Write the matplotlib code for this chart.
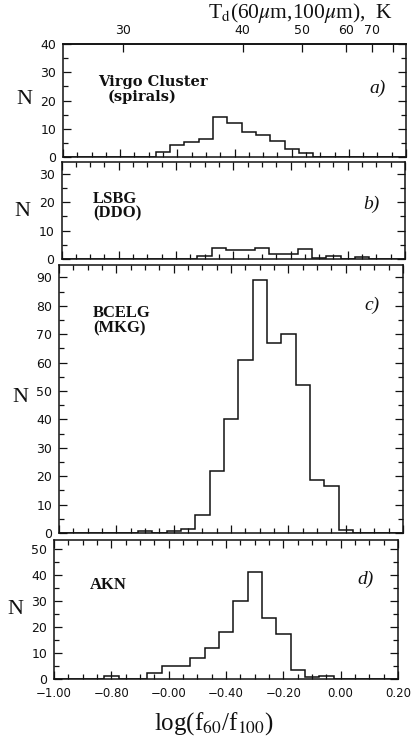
import numpy as np
import matplotlib
matplotlib.use("Agg")
import matplotlib.pyplot as plt
from matplotlib.ticker import MultipleLocator

plt.rcParams['mathtext.fontset'] = 'stix'
plt.rcParams['font.family'] = ['DejaVu Sans']

# ---- data ----
bin_centers = np.round(np.arange(-1.0, 0.2001, 0.05), 3)   # log(f60/f100) bin centres
virgo = [0]*7 + [1.7, 4.3, 5.3, 6.4, 14, 12, 9, 7.8, 5.8, 2.9, 1.4] + [0]*7
lsbg = [0]*10 + [1, 4, 3, 3, 4, 1.8, 1.8, 3.6, 0.5, 1.2, 0, 0.8] + [0]*3
bcelg = [0]*6 + [0.8, 0, 0.6, 1.5, 6.5, 22, 40, 61, 89, 67, 70, 52, 18.5, 16.5, 1] + [0]*4
akn = [0]*4 + [1, 0, 0, 2.5, 5, 5, 8, 12, 18, 30, 41, 23.5, 17.5, 3.5, 0.8, 1.3] + [0]*5

x_tick_vals = [-1.0, -0.8, -0.6, -0.4, -0.2, 0.0, 0.2]
x_tick_labels = ["\u22121.00", "\u22120.80", "\u22120.00", "\u22120.40", "\u22120.20", "0.00", "0.20"]

# top axis: dust temperature calibration
T_values = [30, 40, 50, 60, 70, 80]
T_logratio = [-0.79, -0.371, -0.164, -0.0105, 0.080, 0.154]
T_labels = ["30", "40", "50", "60", "70", ""]

panel_names = [("Virgo Cluster", "(spirals)"), ("LSBG", "(DDO)"), ("BCELG", "(MKG)"), ("AKN", None)]
panel_tags = ["a)", "b)", "c)", "d)"]
series = [virgo, lsbg, bcelg, akn]
ymax = [40, 34.2, 94.4, 53.5]
ymajor = [10, 10, 10, 10]

# ---- layout ----
W, H = 411, 739
fig = plt.figure(figsize=(W/100, H/100), dpi=100)

# (left, right, top, bottom) in pixels
boxes = [(63, 406, 44, 157), (61.5, 405, 162, 259), (59, 403, 265, 533), (54, 398, 540, 679)]
name_pos = [((0.102, 0.665), (0.131, 0.53)),
            ((0.092, 0.62), (0.092, 0.47)),
            ((0.099, 0.82), (0.099, 0.765)),
            ((0.104, 0.676), None)]
tag_pos = [(0.918, 0.61), (0.903, 0.56), (0.91, 0.85), (0.905, 0.72)]
n_pos = [(24, 100), (22, 212), (20, 397), (15, 610)]

edges = np.concatenate([bin_centers - 0.025, [bin_centers[-1] + 0.025]])

serif = ['Liberation Serif', 'DejaVu Serif']
axes = []
for i, (l, r, t, b) in enumerate(boxes):
    ax = fig.add_axes([l/W, (H-b)/H, (r-l)/W, (b-t)/H])
    axes.append(ax)
    ax.stairs(series[i], edges, color='#111111', lw=1.1, baseline=0)
    ax.set_xlim(-1.0, 0.2)
    ax.set_ylim(0, ymax[i])
    ax.xaxis.set_major_locator(MultipleLocator(0.2))
    ax.xaxis.set_minor_locator(MultipleLocator(0.05))
    ax.yaxis.set_major_locator(MultipleLocator(ymajor[i]))
    ax.yaxis.set_minor_locator(MultipleLocator(5))
    ax.tick_params(axis='both', which='both', direction='in', right=True, top=(i > 0),
                   colors='#111111', labelsize=9)
    ax.tick_params(axis='both', which='major', length=6, width=0.9, pad=5)
    ax.tick_params(axis='both', which='minor', length=3.5, width=0.9)
    for s in ax.spines.values():
        s.set_linewidth(1.1)
        s.set_color('#111111')
    if i < 3:
        ax.set_xticklabels([])
    else:
        ax.set_xticks(x_tick_vals)
        ax.set_xticklabels(x_tick_labels)
        ax.tick_params(axis='x', which='major', pad=6, labelsize=8.5)

    nm1, nm2 = panel_names[i]
    if i == 0:
        fam = ['DejaVu Serif']
        fs = 10.5
    else:
        fam = serif
        fs = 12
    p1, p2 = name_pos[i]
    ax.text(p1[0], p1[1], nm1, transform=ax.transAxes, family=fam, fontsize=fs,
            fontweight='bold', ha='left', va='center', color='#111111')
    if nm2:
        ax.text(p2[0], p2[1], nm2, transform=ax.transAxes, family=fam, fontsize=fs,
                fontweight='bold', ha='left', va='center', color='#111111')
    ax.text(tag_pos[i][0], tag_pos[i][1], panel_tags[i], transform=ax.transAxes,
            family=serif, fontsize=14, style='italic', ha='center', va='center', color='#111111')
    fig.text(n_pos[i][0]/W, 1 - n_pos[i][1]/H, "N", family=serif, fontsize=16, ha='center',
             va='center', color='#111111')

# top temperature axis
sec = axes[0].secondary_xaxis('top')
sec.set_xticks(T_logratio, labels=T_labels)
sec.tick_params(direction='in', length=6, width=0.9, pad=5, labelsize=9, colors='#111111')
sec.xaxis.set_minor_locator(plt.NullLocator())
sec.spines['top'].set_linewidth(1.1)

fig.text(300/W, 1 - 13/H, r"T$_{\rm d}$(60$\mu$m,100$\mu$m),  K", family=serif,
         fontsize=15.5, ha='center', va='center', color='#111111')
fig.text(214/W, 1 - 724/H, r"log(f$_{60}$/f$_{100}$)", family=serif,
         fontsize=18, ha='center', va='center', color='#111111')

fig.savefig("out.png", dpi=100)
